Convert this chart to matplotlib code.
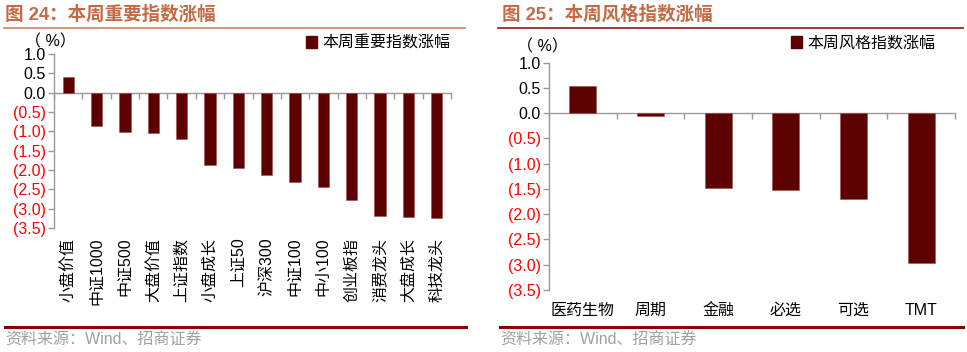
import numpy as np
import matplotlib
matplotlib.use("Agg")
import matplotlib.pyplot as plt
from matplotlib.patches import Patch
from matplotlib.transforms import blended_transform_factory

plt.rcParams['font.family'] = ['Liberation Sans', 'Noto Sans CJK SC', 'DejaVu Sans']

# data
left_cats = ['小盘价值', '中证1000', '中证500', '大盘价值', '上证指数', '小盘成长', '上证50',
             '沪深300', '中证100', '中小100', '创业板指', '消费龙头', '大盘成长', '科技龙头']
left_vals = [0.41, -0.87, -1.01, -1.05, -1.20, -1.86, -1.94,
             -2.14, -2.32, -2.45, -2.78, -3.20, -3.22, -3.25]
right_cats = ['医药生物', '周期', '金融', '必选', '可选', 'TMT']
right_vals = [0.53, -0.06, -1.48, -1.53, -1.70, -2.97]
yticks = [1.0, 0.5, 0.0, -0.5, -1.0, -1.5, -2.0, -2.5, -3.0, -3.5]

W, H = 967, 352
BAR = '#5C0000'
TITLE_C = '#C46A45'
GRAY = '#999999'

fig = plt.figure(figsize=(W / 100, H / 100), dpi=100)


def px_axes(x0, y0, x1, y1):
    # axes from pixel box (top-left origin)
    return fig.add_axes([x0 / W, 1 - y1 / H, (x1 - x0) / W, (y1 - y0) / H])


def fmt(v):
    return '%.1f' % v if v >= 0 else '(%.1f)' % abs(v)


def draw_panel(ax, cats, vals, rotate):
    n = len(cats)
    x = np.arange(n)
    ax.bar(x, vals, width=0.4, color=BAR, edgecolor='#A05050', linewidth=0.4, zorder=3)
    ax.set_xlim(-0.5, n - 0.5)
    ax.set_ylim(-3.5, 1.0)
    for s in ['top', 'right']:
        ax.spines[s].set_visible(False)
    ax.spines['left'].set_color(GRAY)
    ax.spines['bottom'].set_color(GRAY)
    ax.spines['bottom'].set_position(('data', 0))
    ax.spines['left'].set_linewidth(1.0)
    ax.spines['bottom'].set_linewidth(1.0)
    ax.set_xticks(np.arange(n + 1) - 0.5)
    ax.set_xticklabels([])
    ax.tick_params(axis='x', direction='out', length=4, color=GRAY, width=1)
    ax.set_yticks(yticks)
    ax.set_yticklabels([fmt(v) for v in yticks], fontsize=11.5)
    ax.tick_params(axis='y', direction='out', length=4, color=GRAY, width=1, pad=2)
    for lab, v in zip(ax.get_yticklabels(), yticks):
        lab.set_color('black' if v >= 0 else '#FF0000')
    tr = blended_transform_factory(ax.transData, ax.transAxes)
    for xi, c in zip(x, cats):
        if rotate:
            ax.text(xi, -0.055, c, rotation=90, ha='center', va='top', fontsize=11.5,
                    transform=tr)
        else:
            ax.text(xi, -0.09, c, ha='center', va='center', fontsize=11.5,
                    transform=tr)


# left panel
axl = px_axes(54, 54, 451, 228)
draw_panel(axl, left_cats, left_vals, rotate=True)
# right panel
axr = px_axes(549, 62.7, 955, 290)
draw_panel(axr, right_cats, right_vals, rotate=False)

# titles and rules
fig.text(5 / W, 1 - 15 / H, '图 24：本周重要指数涨幅', fontsize=13.3, fontweight='bold',
         color=TITLE_C, va='center', ha='left')
fig.text(502 / W, 1 - 15 / H, '图 25：本周风格指数涨幅', fontsize=13.3, fontweight='bold',
         color=TITLE_C, va='center', ha='left')
fig.add_artist(plt.Line2D([4 / W, 465 / W], [1 - 28 / H] * 2, color='#D08060', lw=1.2))
fig.add_artist(plt.Line2D([498 / W, 963 / W], [1 - 28 / H] * 2, color='#8B1A1A', lw=1.2))
fig.add_artist(plt.Line2D([5 / W, 466 / W], [1 - 327 / H] * 2, color='#850000', lw=2.2))
fig.add_artist(plt.Line2D([500 / W, 963 / W], [1 - 327 / H] * 2, color='#850000', lw=2.2))

# source notes
fig.text(5 / W, 1 - 340 / H, '资料来源：Wind、招商证券', fontsize=11.5, color='#A0A0A0',
         va='center', ha='left')
fig.text(500 / W, 1 - 340 / H, '资料来源：Wind、招商证券', fontsize=11.5, color='#A0A0A0',
         va='center', ha='left')

# unit labels
fig.text(50 / W, 1 - 42 / H, '（ %）', fontsize=11.5, ha='center', va='center')
fig.text(542 / W, 1 - 47 / H, '（ %）', fontsize=11.5, ha='center', va='center')

# legends
fig.legend(handles=[Patch(color=BAR, label='本周重要指数涨幅')], loc='center right',
           bbox_to_anchor=(458 / W, 1 - 43 / H), frameon=False, fontsize=11.5,
           handlelength=0.7, handleheight=0.7, handletextpad=0.3, borderpad=0)
fig.legend(handles=[Patch(color=BAR, label='本周风格指数涨幅')], loc='center right',
           bbox_to_anchor=(943 / W, 1 - 43 / H), frameon=False, fontsize=11.5,
           handlelength=0.7, handleheight=0.7, handletextpad=0.3, borderpad=0)

fig.savefig('out.png', dpi=100)
